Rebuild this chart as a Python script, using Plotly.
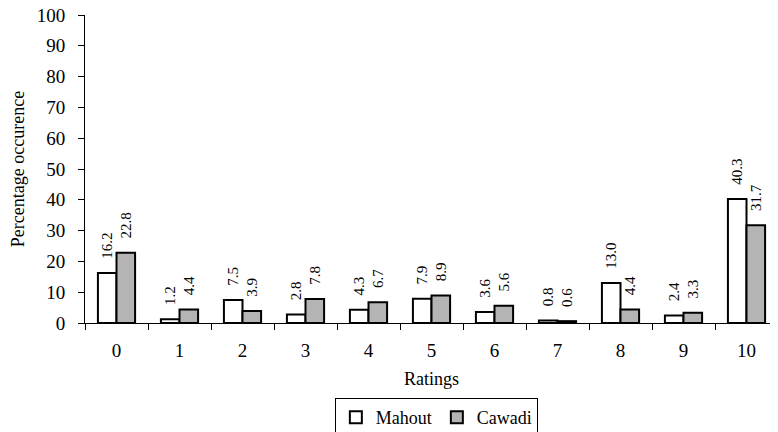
import plotly.graph_objects as go

ratings = ["0", "1", "2", "3", "4", "5", "6", "7", "8", "9", "10"]
mahout = [16.2, 1.2, 7.5, 2.8, 4.3, 7.9, 3.6, 0.8, 13.0, 2.4, 40.3]
cawadi = [22.8, 4.4, 3.9, 7.8, 6.7, 8.9, 5.6, 0.6, 4.4, 3.3, 31.7]
y_ticks = [0, 10, 20, 30, 40, 50, 60, 70, 80, 90, 100]

FONT = "Liberation Serif"
PAD = "\u00a0\u00a0\u00a0"  # gap between bar top and its rotated label


def labels(values):
    return [PAD + f"{v:.1f}" for v in values]


fig = go.Figure()
fig.add_trace(go.Bar(
    x=ratings, y=mahout, name="Mahout",
    marker=dict(color="white", line=dict(color="black", width=2)),
    text=labels(mahout), textposition="outside", textangle=-90,
    constraintext="none",
    textfont=dict(family=FONT, size=15, color="black"), cliponaxis=False,
))
fig.add_trace(go.Bar(
    x=ratings, y=cawadi, name="Cawadi",
    marker=dict(color="#b4b4b4", line=dict(color="black", width=2)),
    text=labels(cawadi), textposition="outside", textangle=-90,
    constraintext="none",
    textfont=dict(family=FONT, size=15, color="black"), cliponaxis=False,
))

fig.update_layout(
    width=770, height=424,
    margin=dict(l=77, r=0, t=7, b=109, autoexpand=False),
    paper_bgcolor="white", plot_bgcolor="white",
    barmode="group", bargap=0.41, bargroupgap=0,
    font=dict(family=FONT, size=18, color="black"),
    showlegend=True,
    legend=dict(
        orientation="h", x=0.507, xanchor="center", y=-0.2435, yanchor="top",
        bordercolor="black", borderwidth=1,
        font=dict(family=FONT, size=18, color="black"),
    ),
)
fig.update_xaxes(
    type="category", showline=True, linecolor="black", linewidth=1,
    ticks="outside", tickson="boundaries", ticklen=6, tickcolor="black",
    tickfont=dict(family=FONT, size=19), showgrid=False, automargin=False,
    ticklabelstandoff=10,
    title=dict(text="Ratings", font=dict(family=FONT, size=18), standoff=12),
)
fig.update_yaxes(
    range=[0, 100], tickvals=y_ticks, showline=True, linecolor="black", linewidth=1,
    ticks="outside", ticklen=6, tickcolor="black", showgrid=False, zeroline=False,
    tickfont=dict(family=FONT, size=19), automargin=False, ticklabeloverflow="allow",
    ticklabelstandoff=9,
    title=dict(text="Percentage occurence", font=dict(family=FONT, size=18), standoff=10),
)

fig.write_html("out.html")
